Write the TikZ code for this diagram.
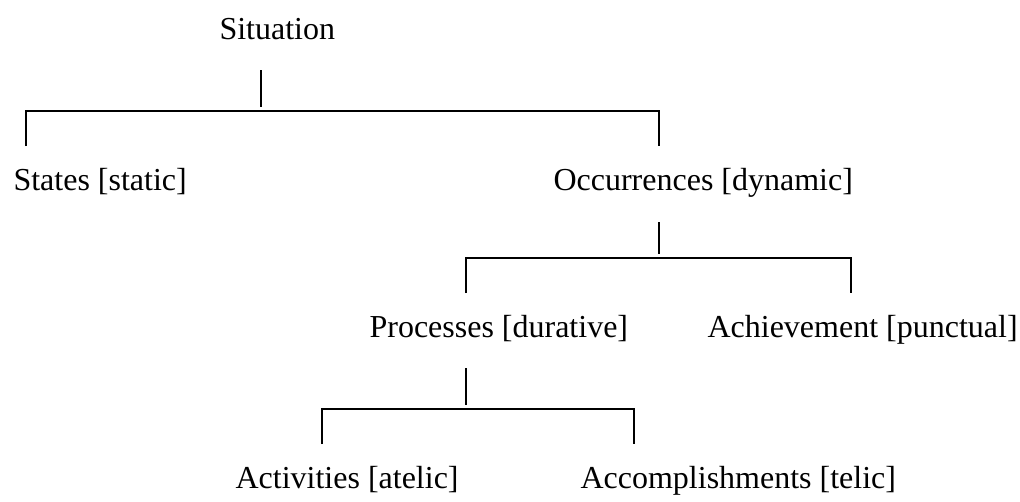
\documentclass[tikz,border=0pt]{standalone}
\usepackage{fontspec}
\setmainfont{Liberation Serif}
\usetikzlibrary{positioning,calc}

\begin{document}
\begin{tikzpicture}[x=1pt, y=-1pt,
        every node/.style={anchor=base west, inner sep=0pt,
        font=\fontsize{32}{38}\selectfont},
        every path/.style={draw, line width=1.1pt}]
    \useasboundingbox[draw=none, fill=white] (0,0) rectangle (1020,501);

    \node (nodeSituation) at (219,39) {Situation};
    \node (nodeStates) at (13,190) {States [static]};
    \node (nodeOccur) at (553,190) {Occurrences [dynamic]};
    \node (nodeProc) at (369,337) {Processes [durative]};
    \node (nodeAchiev) at (707,337) {Achievement [punctual]};
    \node (nodeActiv) at (235,488) {Activities [atelic]};
    \node (nodeAccomp) at (580,488) {Accomplishments [telic]};

    \coordinate (stemA) at (261,70);
    \coordinate (stemB) at (659,222);
    \coordinate (stemC) at (466,368);
    \coordinate (legAL) at (26,146);
    \coordinate (legAR) at (659,146);
    \coordinate (legBL) at (466,293);
    \coordinate (legBR) at (851,293);
    \coordinate (legCL) at (322,444);
    \coordinate (legCR) at (634,444);

    \draw (stemA) -- ++(0,37);
    \draw (legAL) -- ++(0,-35) -| (legAR);
    \draw (stemB) -- ++(0,32);
    \draw (legBL) -- ++(0,-35) -| (legBR);
    \draw (stemC) -- ++(0,37);
    \draw (legCL) -- ++(0,-35) -| (legCR);

    \end{tikzpicture}
\end{document}
